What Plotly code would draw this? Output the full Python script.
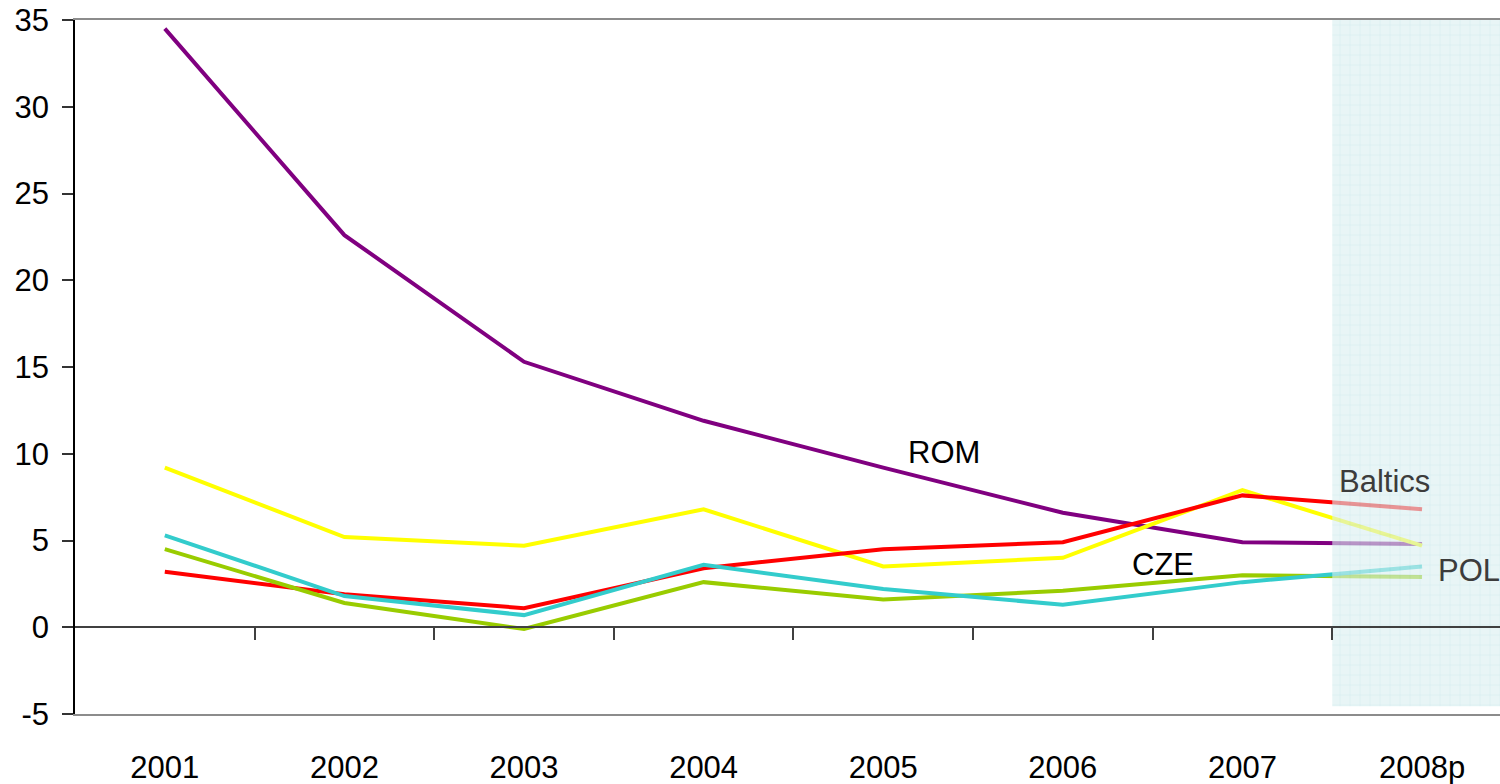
import plotly.graph_objects as go

# Annual values per country group, 2001-2008 (2008 is a projection)
years = ["2001", "2002", "2003", "2004", "2005", "2006", "2007", "2008p"]
rom = [34.5, 22.6, 15.3, 11.9, 9.2, 6.6, 4.9, 4.8]
hun = [9.2, 5.2, 4.7, 6.8, 3.5, 4.0, 7.9, 4.7]
baltics = [3.2, 1.9, 1.1, 3.4, 4.5, 4.9, 7.6, 6.8]
cze = [4.5, 1.4, -0.1, 2.6, 1.6, 2.1, 3.0, 2.9]
pol = [5.3, 1.8, 0.7, 3.6, 2.2, 1.3, 2.6, 3.5]

# Value axis ticks (plain hyphen for the negative label)
y_ticks = [-5, 0, 5, 10, 15, 20, 25, 30, 35]
y_tick_text = ["-5", "0", "5", "10", "15", "20", "25", "30", "35"]

series = [
    ("ROM", rom, "#800080"),
    ("HUN", hun, "#FFFF00"),
    ("Baltics", baltics, "#FF0000"),
    ("CZE", cze, "#99CC00"),
    ("POL", pol, "#33CCCC"),
]

idx = list(range(len(years)))
font_family = "Liberation Sans, Arial, sans-serif"
fsize = 31

fig = go.Figure()
for name, vals, color in series:
    fig.add_trace(go.Scatter(
        x=idx, y=vals, name=name, mode="lines",
        line=dict(color=color, width=4),
        showlegend=False, hoverinfo="skip",
    ))

# Projection band over the last year, drawn on top of the lines
last = len(years) - 1
fig.add_trace(go.Scatter(
    x=[last - 0.5, last + 0.6, last + 0.6, last - 0.5, last - 0.5],
    y=[-4.55, -4.55, 35, 35, -4.55],
    mode="lines", line=dict(width=0), fill="toself",
    fillcolor="rgba(214,238,240,0.55)",
    fillpattern=dict(shape="+", size=10, solidity=0.12,
                     fgcolor="#9fd3d8", bgcolor="rgba(218,239,241,1)"),
    opacity=0.62, showlegend=False, hoverinfo="skip",
))

# Invisible trace so the secondary (tick) axis is drawn
fig.add_trace(go.Scatter(x=[0], y=[None], xaxis="x2", showlegend=False,
                         hoverinfo="skip"))

labels = [
    ("ROM", 4.34, 10.1, "#000000"),
    ("Baltics", 6.79, 8.4, "#3c3c3c"),
    ("CZE", 5.56, 3.6, "#000000"),
    ("POL", 7.26, 3.3, "#3c3c3c"),
]
for text, x, y, c in labels:
    fig.add_annotation(x=x, y=y, text=text, showarrow=False,
                       font=dict(family=font_family, size=fsize, color=c))

x_range = [-0.5, 7.434]

fig.update_layout(
    width=1500, height=784,
    margin=dict(l=75, r=0, t=20, b=70),
    paper_bgcolor="white", plot_bgcolor="white",
    font=dict(family=font_family, size=fsize, color="black"),
    xaxis=dict(
        range=x_range, tickvals=idx, ticktext=years,
        showgrid=False, zeroline=False, automargin=False,
        showline=True, linecolor="#8c8c8c", linewidth=2, mirror=True,
        ticks="", ticklabelstandoff=25,
        tickfont=dict(family=font_family, size=fsize, color="black"),
    ),
    xaxis2=dict(
        range=x_range, overlaying="x", anchor="free", position=0.125,
        tickvals=[i + 0.5 for i in idx[:-1]], automargin=False,
        showticklabels=False, showgrid=False, zeroline=False,
        showline=True, linecolor="#404040", linewidth=1.5,
        ticks="outside", ticklen=12, tickwidth=1.5, tickcolor="#404040",
    ),
    yaxis=dict(
        range=[-5, 35], tickvals=y_ticks, ticktext=y_tick_text,
        showgrid=False, automargin=False, zeroline=False,
        showline=True, linecolor="black", linewidth=1.5,
        ticks="outside", ticklen=11, tickwidth=1.5, tickcolor="#333333",
        ticklabelstandoff=7,
        tickfont=dict(family=font_family, size=fsize, color="black"),
    ),
)

fig.write_html("out.html")
